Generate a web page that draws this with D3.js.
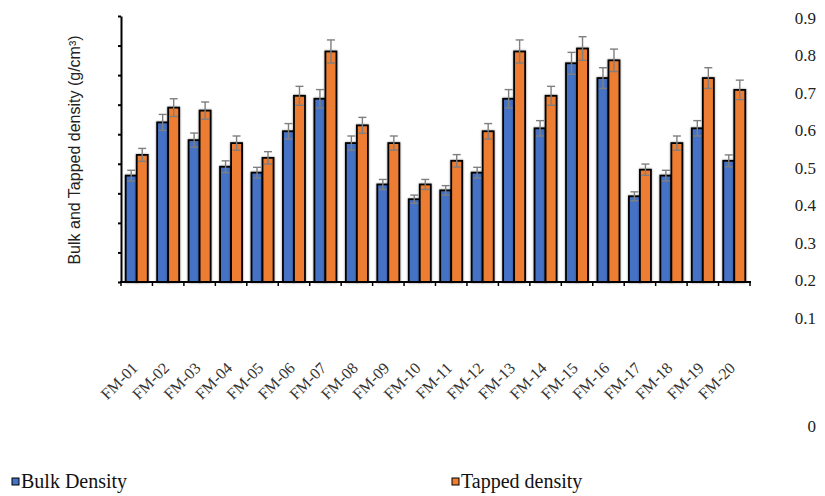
<!DOCTYPE html>
<html><head><meta charset="utf-8">
<script src="https://cdn.jsdelivr.net/npm/d3@7"></script>
<style>body{margin:0;background:#fff}svg{display:block}</style>
</head><body>
<script>
const categories = ["FM-01","FM-02","FM-03","FM-04","FM-05","FM-06","FM-07","FM-08","FM-09","FM-10","FM-11","FM-12","FM-13","FM-14","FM-15","FM-16","FM-17","FM-18","FM-19","FM-20"];
const seriesNames = ["Bulk Density","Tapped density"];
const bulk   = [0.36,0.54,0.48,0.39,0.37,0.51,0.62,0.47,0.33,0.28,0.31,0.37,0.62,0.52,0.74,0.69,0.29,0.36,0.52,0.41];
const bulkErr = [0.018,0.027,0.024,0.02,0.018,0.026,0.031,0.024,0.017,0.014,0.016,0.018,0.031,0.026,0.037,0.035,0.015,0.018,0.026,0.02];
const tapped = [0.43,0.59,0.58,0.47,0.42,0.63,0.78,0.53,0.47,0.33,0.41,0.51,0.78,0.63,0.79,0.75,0.38,0.47,0.69,0.65];
const tappedErr = [0.022,0.03,0.029,0.024,0.021,0.032,0.039,0.027,0.024,0.017,0.021,0.026,0.039,0.032,0.04,0.038,0.019,0.024,0.035,0.033];
const leftTicks = [0,0.1,0.2,0.3,0.4,0.5,0.6,0.7,0.8,0.9];
const rightLabels = [0.9,0.8,0.7,0.6,0.5,0.4,0.3,0.2,0.1,0];
const colors = ["#4472C4","#ED7D31"];

const W = 825, H = 496;
const svg = d3.select("body").append("svg").attr("width", W).attr("height", H);
const defs = svg.append("defs");
const f = defs.append("filter").attr("id","sh").attr("x","-30%").attr("y","-30%").attr("width","160%").attr("height","160%");
f.append("feGaussianBlur").attr("in","SourceAlpha").attr("stdDeviation",1.2).attr("result","b");
f.append("feOffset").attr("in","b").attr("dx",0).attr("dy",0).attr("result","o");
f.append("feComponentTransfer").attr("in","o").attr("result","o2").append("feFuncA").attr("type","linear").attr("slope",0.45);
const fm = f.append("feMerge"); fm.append("feMergeNode").attr("in","o2"); fm.append("feMergeNode").attr("in","SourceGraphic");

const x0 = 121, x1 = 750, yBase = 282, yTop = 16;
const x = d3.scaleBand().domain(categories).range([x0, x1]).paddingInner(0.3).paddingOuter(0.15);
const xs = d3.scaleBand().domain(seriesNames).range([0, x.bandwidth()]);
const y = d3.scaleLinear().domain([0, 0.9]).range([yBase, yTop]);
const yr = d3.scaleLinear().domain([0, 0.1, 0.9]).range([426, 318, 18]);

const data = categories.map((c,i)=>({c, vals:[{s:seriesNames[0],v:bulk[i],e:bulkErr[i]},{s:seriesNames[1],v:tapped[i],e:tappedErr[i]}]}));

// bars
const g = svg.append("g");
const grp = g.selectAll("g.grp").data(data).join("g").attr("transform", d=>`translate(${x(d.c)},0)`);
grp.selectAll("rect").data(d=>d.vals).join("rect")
  .attr("x", d=>xs(d.s)).attr("width", xs.bandwidth())
  .attr("y", d=>y(d.v)).attr("height", d=>yBase - y(d.v))
  .attr("fill", (d,i)=>colors[i]).attr("stroke","#000").attr("stroke-width",1.8)
  .attr("filter","url(#sh)");
// error bars
const eb = grp.selectAll("g.eb").data(d=>d.vals).join("g").attr("class","eb")
  .attr("stroke","#7f7f7f").attr("stroke-width",1.4);
eb.append("line").attr("x1",d=>xs(d.s)+xs.bandwidth()/2).attr("x2",d=>xs(d.s)+xs.bandwidth()/2)
  .attr("y1",d=>y(d.v+d.e)).attr("y2",d=>y(d.v-d.e));
eb.append("line").attr("x1",d=>xs(d.s)+xs.bandwidth()/2-4).attr("x2",d=>xs(d.s)+xs.bandwidth()/2+4)
  .attr("y1",d=>y(d.v+d.e)).attr("y2",d=>y(d.v+d.e));
eb.append("line").attr("x1",d=>xs(d.s)+xs.bandwidth()/2-4).attr("x2",d=>xs(d.s)+xs.bandwidth()/2+4)
  .attr("y1",d=>y(d.v-d.e)).attr("y2",d=>y(d.v-d.e));

// left axis
const ya = svg.append("g").attr("transform",`translate(${x0},0)`)
  .call(d3.axisLeft(y).tickValues(leftTicks).tickFormat("").tickSize(3).tickSizeOuter(0));
ya.select(".domain").attr("stroke","#000").attr("stroke-width",2);
ya.selectAll(".tick line").attr("stroke","#000").attr("stroke-width",2);

// bottom axis line with boundary ticks
const bottom = svg.append("g");
bottom.append("line").attr("x1",x0-1).attr("x2",x1+1).attr("y1",yBase).attr("y2",yBase).attr("stroke","#000").attr("stroke-width",2);
const bounds = categories.map(c=>x(c) - x.step()*0.15).concat([x1]);
bottom.selectAll("line.t").data(bounds).join("line").attr("class","t")
  .attr("x1",d=>d).attr("x2",d=>d).attr("y1",yBase).attr("y2",yBase+4).attr("stroke","#000").attr("stroke-width",1.5);

// x labels
svg.append("g").selectAll("text").data(categories).join("text")
  .attr("transform", d=>`translate(${x(d)+x.bandwidth()/2+2},369) rotate(-45)`)
  .attr("text-anchor","end")
  .attr("font-family","'Liberation Serif','Times New Roman',serif").attr("font-size",16).attr("fill","#333")
  .text(d=>d);

// right labels
svg.append("g").selectAll("text").data(rightLabels).join("text")
  .attr("x",816).attr("y",d=>yr(d)).attr("dy","0.35em").attr("text-anchor","end")
  .attr("font-family","'Liberation Serif','Times New Roman',serif").attr("font-size",17).attr("fill","#222")
  .text(d=>d===0?"0":d3.format(".1f")(d));

// y title
svg.append("text").attr("transform","translate(80,150) rotate(-90)").attr("text-anchor","middle")
  .attr("font-family","'Liberation Sans',Arial,sans-serif").attr("font-size",16).attr("fill","#222")
  .text("Bulk and Tapped density (g/cm³)");

// legend
const legX = [12, 452];
const lg = svg.append("g").selectAll("g").data(seriesNames).join("g").attr("transform",(d,i)=>`translate(${legX[i]},478)`);
lg.append("rect").attr("width",7).attr("height",7).attr("fill",(d,i)=>colors[i]).attr("stroke","#000").attr("stroke-width",1);
lg.append("text").attr("x",9).attr("y",10).attr("font-family","'Liberation Serif','Times New Roman',serif")
  .attr("font-size",20).attr("fill","#111").text(d=>d);
</script>
</body></html>
